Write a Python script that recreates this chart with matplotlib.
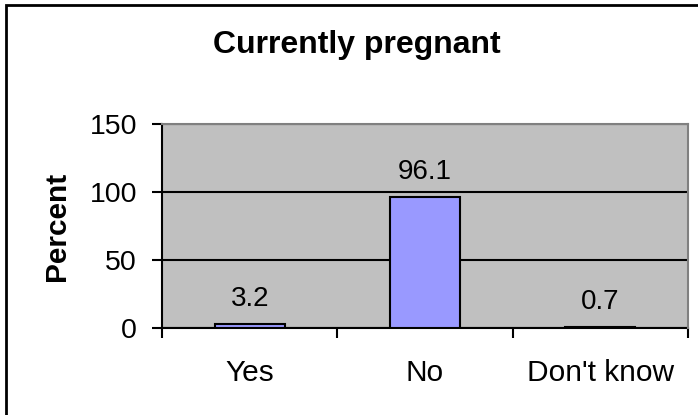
#!/usr/bin/env python3
"""Bar chart: Currently pregnant (percent)."""
import matplotlib

matplotlib.use("Agg")
import matplotlib.pyplot as plt
from matplotlib.patches import Rectangle

categories = ["Yes", "No", "Don't know"]
percent = [3.2, 96.1, 0.7]
y_ticks = [0, 50, 100, 150]

W, H = 698, 415
plt.rcParams["font.family"] = ["Liberation Sans", "DejaVu Sans"]

fig = plt.figure(figsize=(W / 100, H / 100), dpi=100)
ax = fig.add_axes([162 / W, 1 - 328 / H, (688 - 162) / W, (328 - 124) / H])
ax.set_facecolor("#C0C0C0")

xs = list(range(len(categories)))
ax.bar(xs, percent, width=0.4, color="#9999FF", edgecolor="black", linewidth=1.5, zorder=3)
for x, v in zip(xs, percent):
    ax.annotate(f"{v:.1f}", (x, v), xytext=(0, 13), textcoords="offset points",
                ha="center", va="baseline", fontsize=20)

ax.set_xlim(-0.5, len(categories) - 0.5)
ax.set_ylim(0, 150)
ax.set_yticks(y_ticks)
ax.yaxis.grid(True, color="black", linewidth=1.5, zorder=1)
ax.set_axisbelow(True)
ax.tick_params(axis="y", direction="out", length=7, width=1.5, pad=11, labelsize=20.5)

# category boundaries get tick marks, names sit in between
ax.set_xticks([i - 0.5 for i in range(len(categories) + 1)])
ax.set_xticklabels([])
ax.tick_params(axis="x", which="major", direction="out", length=7, width=1.5)
ax.set_xticks(xs, minor=True)
ax.set_xticklabels(categories, minor=True)
ax.tick_params(axis="x", which="minor", length=0, pad=22, labelsize=21.5)

for side in ("left", "bottom"):
    ax.spines[side].set_color("black")
    ax.spines[side].set_linewidth(1.5)
for side in ("top", "right"):
    ax.spines[side].set_color("#808080")
    ax.spines[side].set_linewidth(1.5)
    ax.spines[side].set_zorder(4)

fig.text(357 / W, 1 - 53 / H, "Currently pregnant", ha="center", va="baseline",
         fontsize=23, fontweight="bold")
fig.text(65 / W, 1 - 226 / H, "Percent", rotation=90, rotation_mode="anchor",
         ha="center", va="baseline", fontsize=21.5, fontweight="bold")

# outer frame (right and bottom fall outside the image)
fig.patches.append(Rectangle((6 / W, -0.1), 2, 1.1 - 5 / H, transform=fig.transFigure,
                             fill=False, edgecolor="black", linewidth=2))

fig.savefig("out.png", dpi=100)
